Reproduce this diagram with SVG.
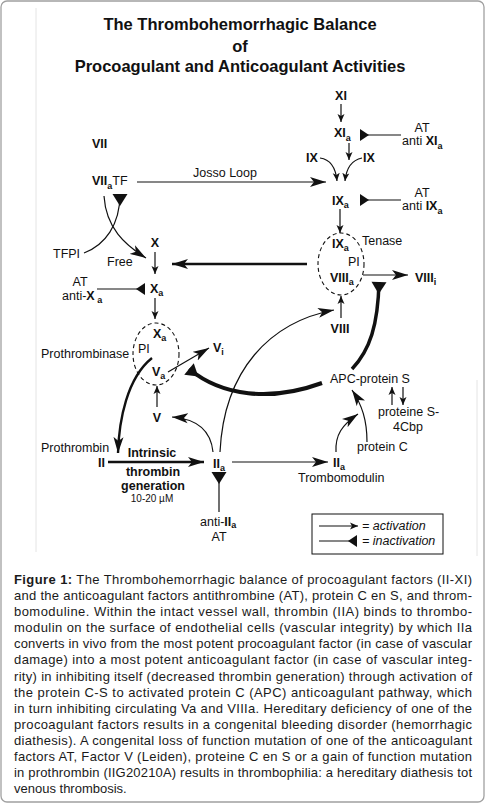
<svg xmlns="http://www.w3.org/2000/svg" width="485" height="803" viewBox="0 0 485 803">
<style>
text{font-family:"Liberation Sans",Arial,sans-serif;fill:#111}
.t{font-size:16.5px;font-weight:bold;text-anchor:middle}
.b{font-size:12.5px;font-weight:bold}
.r{font-size:12.5px}
.s{font-size:9px;font-weight:bold}
.sr{font-size:9px}
.m{text-anchor:middle}
.i{font-size:12.5px;font-style:italic}
.cap{font-size:13px;fill:#1a1a1a}
.ln{fill:none;stroke:#111;stroke-width:1.2}
.thk{fill:none;stroke:#111;stroke-width:2.4}
.ell{fill:none;stroke:#111;stroke-width:1.1;stroke-dasharray:4 3}
</style>
<defs>
<marker id="a" markerUnits="userSpaceOnUse" markerWidth="9" markerHeight="8" refX="8" refY="4" orient="auto"><path d="M0,0.5 L8,4 L0,7.5 L2,4 z" fill="#111"/></marker>
<marker id="A" markerUnits="userSpaceOnUse" markerWidth="17" markerHeight="11" refX="16" refY="5.5" orient="auto"><path d="M0,0.5 L16,5.5 L0,10.5 L4,5.5 z" fill="#111"/></marker>
<marker id="n" markerUnits="userSpaceOnUse" markerWidth="10" markerHeight="13" refX="9" refY="6.5" orient="auto"><path d="M9,0.5 L9,12.5 L0,6.5 z" fill="#111"/></marker>
<marker id="N" markerUnits="userSpaceOnUse" markerWidth="13" markerHeight="16" refX="12" refY="8" orient="auto"><path d="M12,0.5 L12,15.5 L0,8 z" fill="#111"/></marker>
</defs>
<rect x="1" y="1" width="483" height="801" rx="6" fill="#fff" stroke="#a0a0a0" stroke-width="1.3"/>
<line x1="36" y1="8" x2="36" y2="552" stroke="#e4e4e4" stroke-width="1"/>
<line x1="477" y1="380" x2="477" y2="556" stroke="#e4e4e4" stroke-width="1"/>

<g id="title">
<text class="t" x="240" y="30">The Thrombohemorrhagic Balance</text>
<text class="t" x="240" y="52">of</text>
<text class="t" x="240" y="72">Procoagulant and Anticoagulant Activities</text>
</g>

<g id="connectors">
<line class="ln" x1="341" y1="104" x2="341" y2="122" marker-end="url(#a)"/>
<line class="ln" x1="349" y1="143" x2="349" y2="160" marker-end="url(#a)"/>
<path class="ln" d="M320,158 Q335,160 337,181" marker-end="url(#a)"/>
<path class="ln" d="M362,158 Q347,161 345,181" marker-end="url(#a)"/>
<line class="ln" x1="137" y1="182" x2="326" y2="182" marker-end="url(#A)"/>
<line class="ln" x1="401" y1="135" x2="360" y2="135" marker-end="url(#n)"/>
<line class="ln" x1="401" y1="200" x2="360" y2="200" marker-end="url(#n)"/>
<line class="ln" x1="340" y1="209" x2="340" y2="233" marker-end="url(#a)"/>
<line class="thk" x1="307" y1="264" x2="172" y2="264" marker-end="url(#A)"/>
<line class="ln" x1="363" y1="275" x2="408" y2="275" marker-end="url(#A)"/>
<line class="ln" x1="341" y1="318" x2="341" y2="296" marker-end="url(#a)"/>
<path fill="none" stroke="#111" stroke-width="3.5" d="M352,369 C370,350 378,325 379,282" marker-end="url(#N)"/>
<path class="ln" stroke-width="1.6" d="M104,196 C106,228 125,245 146,258" marker-end="url(#A)"/>
<path class="ln" stroke-width="1.6" d="M84,253 C105,245 120,225 120,194" marker-end="url(#N)"/>
<line class="ln" x1="155" y1="252" x2="155" y2="274" marker-end="url(#a)"/>
<line class="ln" x1="97" y1="289" x2="145" y2="289" marker-end="url(#n)"/>
<line class="ln" x1="155" y1="298" x2="155" y2="319" marker-end="url(#a)"/>
<line class="ln" x1="168" y1="372" x2="209" y2="348" marker-end="url(#A)"/>
<line class="ln" x1="157" y1="407" x2="157" y2="386" marker-end="url(#a)"/>
<path class="ln" stroke-width="1.8" d="M213,452 C211,432 198,419 172,417" marker-end="url(#A)"/>
<path class="thk" d="M152,358 C127,378 119,420 118,453" marker-end="url(#A)"/>
<line class="thk" x1="108" y1="462" x2="204" y2="462" marker-end="url(#A)"/>
<line class="ln" stroke-width="1.8" x1="232" y1="462" x2="328" y2="462" marker-end="url(#A)"/>
<line class="ln" stroke-width="1.8" x1="219" y1="512" x2="219" y2="472" marker-end="url(#N)"/>
<path class="ln" stroke-width="1.8" d="M220,452 C224,370 270,322 334,310" marker-end="url(#A)"/>
<path fill="none" stroke="#111" stroke-width="4" d="M322,383 C270,402 222,396 189,369" marker-end="url(#N)"/>
<path class="ln" stroke-width="1.6" d="M367,442 C367,420 362,405 352,390" marker-end="url(#A)"/>
<path class="ln" stroke-width="1.6" d="M336,452 C335,435 342,425 358,414" marker-end="url(#A)"/>
<line class="ln" x1="392" y1="405" x2="392" y2="387" marker-end="url(#a)"/>
<line class="ln" x1="403" y1="387" x2="403" y2="405" marker-end="url(#a)"/>
</g>

<g id="XI"><text class="b m" x="341" y="100">XI</text></g>
<g id="XIa"><text class="b" x="334" y="137">XI<tspan class="s" dy="4">a</tspan></text></g>
<g id="AT-XIa"><text class="r m" x="422" y="132">AT</text><text class="r" x="402" y="145">anti <tspan font-weight="bold">XI</tspan><tspan class="s" dy="4">a</tspan></text></g>
<g id="IX-left"><text class="b" x="306" y="162">IX</text></g>
<g id="IX-right"><text class="b" x="363" y="162">IX</text></g>
<g id="IXa"><text class="b" x="332" y="205">IX<tspan class="sr" dy="3">a</tspan></text></g>
<g id="AT-IXa"><text class="r m" x="422" y="197">AT</text><text class="r" x="402" y="210">anti <tspan font-weight="bold">IX</tspan><tspan class="s" dy="4">a</tspan></text></g>
<g id="VII"><text class="b" x="92" y="148">VII</text></g>
<g id="VIIaTF"><text class="b" x="92" y="185">VII<tspan class="s" dy="4">a</tspan><tspan class="r" font-weight="normal" dy="-4">TF</tspan></text></g>
<g id="josso"><text class="r" x="193" y="177">Josso Loop</text></g>
<g id="TFPI"><text class="r" x="53" y="258">TFPI</text><text class="r" x="107" y="266">Free</text></g>
<g id="X"><text class="b m" x="155" y="247">X</text></g>
<g id="Xa"><text class="b" x="150" y="293">X<tspan class="s" dy="3">a</tspan></text></g>
<g id="AT-Xa"><text class="r m" x="80" y="286">AT</text><text class="r" x="62" y="300">anti-<tspan font-weight="bold">X</tspan><tspan class="s" dy="3"> a</tspan></text></g>
<g id="tenase">
<ellipse class="ell" cx="341" cy="264" rx="23" ry="31"/>
<text class="b" x="332" y="248">IX<tspan class="s" dy="3">a</tspan></text>
<text class="r" x="362" y="245">Tenase</text>
<text class="r" x="348" y="266">PI</text>
<text class="b" x="330" y="282">VIII<tspan class="s" dy="3">a</tspan></text>
</g>
<g id="VIIIi"><text class="b" x="415" y="282">VIII<tspan class="sr" dy="3">i</tspan></text></g>
<g id="VIII"><text class="b m" x="340" y="333">VIII</text></g>
<g id="prothrombinase">
<ellipse class="ell" cx="156" cy="354" rx="23" ry="31"/>
<text class="b" x="153" y="338">X<tspan class="s" dy="3">a</tspan></text>
<text class="r" x="138" y="353">PI</text>
<text class="b" x="152" y="376">V<tspan class="s" dy="3">a</tspan></text>
<text class="r" x="41" y="358">Prothrombinase</text>
</g>
<g id="Vi"><text class="b" x="213" y="352">V<tspan class="sr" dy="3">i</tspan></text></g>
<g id="V"><text class="b m" x="157" y="422">V</text></g>
<g id="II"><text class="r" x="41" y="452">Prothrombin</text><text class="b" x="98" y="467">II</text></g>
<g id="intrinsic">
<text class="b m" x="152" y="457">Intrinsic</text>
<text class="b m" x="153" y="476">thrombin</text>
<text class="b m" x="153" y="490">generation</text>
<text class="m" x="152" y="502" font-size="10px">10-20 µM</text>
</g>
<g id="IIa"><text class="b" x="213" y="468">II<tspan class="s" dy="3">a</tspan></text></g>
<g id="anti-IIa"><text class="r" x="200" y="526">anti-<tspan font-weight="bold">II</tspan><tspan class="s" dy="2">a</tspan></text><text class="r m" x="219" y="541">AT</text></g>
<g id="IIa-TM"><text class="b" x="333" y="467">II<tspan class="s" dy="3">a</tspan></text><text class="r" x="298" y="482">Trombomodulin</text></g>
<g id="APC"><text class="r" x="330" y="383">APC-protein S</text></g>
<g id="proteinS"><text class="r" x="378" y="416">proteine S-</text><text class="r" x="393" y="431">4Cbp</text></g>
<g id="proteinC"><text class="r" x="357" y="451">protein C</text></g>

<g id="legend">
<rect x="312" y="514" width="131" height="40" fill="none" stroke="#111" stroke-width="1"/>
<line class="ln" x1="319" y1="526" x2="358" y2="526" marker-end="url(#a)"/>
<text class="i" x="362" y="530">= activation</text>
<line class="ln" x1="319" y1="541" x2="357" y2="541" marker-end="url(#n)"/>
<text class="i" x="362" y="545">= inactivation</text>
</g>

<g id="caption">
<text class="cap" x="14" y="584" textLength="458" lengthAdjust="spacing"><tspan font-weight="bold">Figure 1:</tspan> The Thrombohemorrhagic balance of procoagulant factors (II-XI)</text>
<text class="cap" x="14" y="600" textLength="458" lengthAdjust="spacing">and the anticoagulant factors antithrombine (AT), protein C en S, and throm-</text>
<text class="cap" x="14" y="616" textLength="458" lengthAdjust="spacing">bomoduline. Within the intact vessel wall, thrombin (IIA) binds to thrombo-</text>
<text class="cap" x="14" y="632" textLength="458" lengthAdjust="spacing">modulin on the surface of endothelial cells (vascular integrity) by which IIa</text>
<text class="cap" x="14" y="648" textLength="458" lengthAdjust="spacing">converts in vivo from the most potent procoagulant factor (in case of vascular</text>
<text class="cap" x="14" y="664" textLength="458" lengthAdjust="spacing">damage) into a most potent anticoagulant factor (in case of vascular integ-</text>
<text class="cap" x="14" y="681" textLength="458" lengthAdjust="spacing">rity) in inhibiting itself (decreased thrombin generation) through activation of</text>
<text class="cap" x="14" y="697" textLength="458" lengthAdjust="spacing">the protein C-S to activated protein C (APC) anticoagulant pathway, which</text>
<text class="cap" x="14" y="713" textLength="458" lengthAdjust="spacing">in turn inhibiting circulating Va and VIIIa. Hereditary deficiency of one of the</text>
<text class="cap" x="14" y="729" textLength="458" lengthAdjust="spacing">procoagulant factors results in a congenital bleeding disorder (hemorrhagic</text>
<text class="cap" x="14" y="745" textLength="458" lengthAdjust="spacing">diathesis). A congenital loss of function mutation of one of the anticoagulant</text>
<text class="cap" x="14" y="761" textLength="458" lengthAdjust="spacing">factors AT, Factor V (Leiden), proteine C en S or a gain of function mutation</text>
<text class="cap" x="14" y="777" textLength="458" lengthAdjust="spacing">in prothrombin (IIG20210A) results in thrombophilia: a hereditary diathesis tot</text>
<text class="cap" x="14" y="793">venous thrombosis.</text>
</g>
</svg>
